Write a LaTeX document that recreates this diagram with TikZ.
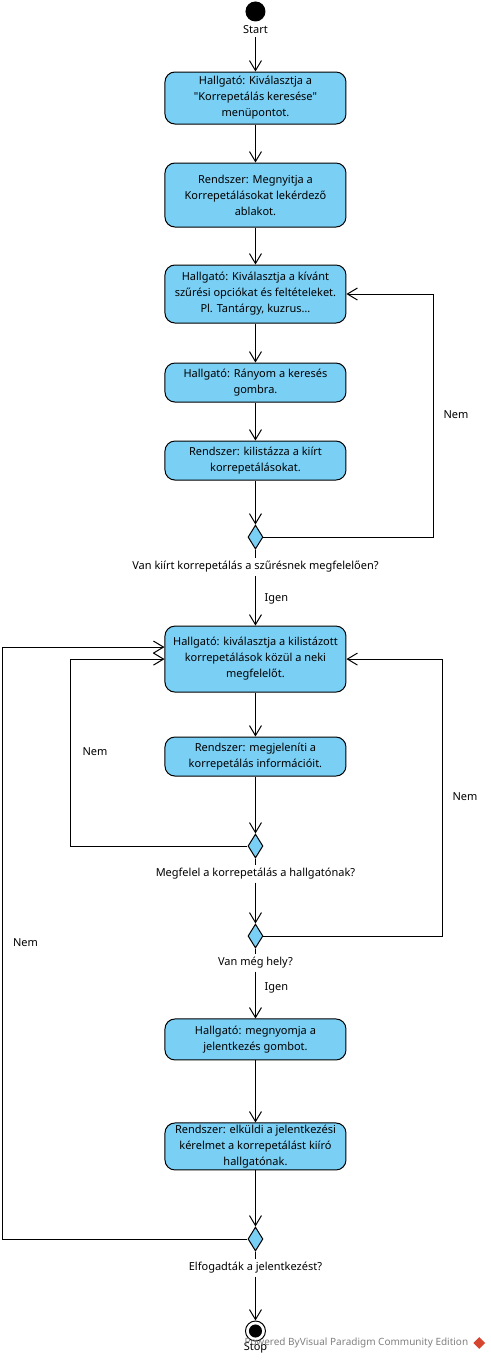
\documentclass[tikz,border=0pt]{standalone}
\usepackage{fontspec}
\setmainfont{Noto Sans}[Ligatures=TeXOff]
\usetikzlibrary{positioning,shapes.geometric,arrows.meta}
\definecolor{actblue}{RGB}{122,207,245}
\definecolor{vpred}{RGB}{214,69,48}
\tikzset{
 action/.style={draw, fill=actblue, rounded corners=7.5pt, minimum width=135.75pt, inner sep=0pt, align=center, font=\fontsize{8.25}{12}\selectfont},
 decision/.style={draw, fill=actblue, diamond, minimum width=11.25pt, minimum height=18pt, inner sep=0pt},
 guard/.style={inner sep=2pt, font=\fontsize{8.25}{12}\selectfont},
 flow/.style={-{Straight Barb[length=7.5pt,width=9pt]}},
}

\begin{document}
\begin{tikzpicture}[on grid, line width=0.75pt]
 \useasboundingbox (0,0) rectangle (368.25pt,-1020pt);
 \node [circle, fill, minimum size=15pt, inner sep=0pt] (start) at (191.6pt,-8.6pt) {};
 \node [guard, below=13.9pt of start] (startlbl) {Start};
 \node [action, minimum height=39pt, below=64.9pt of start] (b1) {Hallgató: Kiválasztja a\\"Korrepetálás keresése"\\menüpontot.};
 \node [action, minimum height=48pt, below=72.75pt of b1] (b2) {Rendszer: Megnyitja a\\Korrepetálásokat lekérdező\\ablakot.};
 \node [action, minimum height=43.5pt, below=74.25pt of b2] (b3) {Hallgató: Kiválasztja a kívánt\\szűrési opciókat és feltételeket.\\Pl. Tantárgy, kuzrus…};
 \node [action, minimum height=29.25pt, below=66.4pt of b3] (b4) {Hallgató: Rányom a keresés\\gombra.};
 \node [action, minimum height=29.25pt, below=58.5pt of b4] (b5) {Rendszer: kilistázza a kiírt\\korrepetálásokat.};
 \node [decision, below=57.4pt of b5] (d1) {};
 \node [guard, below=22.5pt of d1] (lbl1) {Van kiírt korrepetálás a szűrésnek megfelelően?};
 \node [action, minimum height=49.5pt, below=91.5pt of d1] (b6) {Hallgató: kiválasztja a kilistázott\\korrepetálások közül a neki\\megfelelőt.};
 \node [action, minimum height=29.25pt, below=73.1pt of b6] (b7) {Rendszer: megjeleníti a\\korrepetálás információit.};
 \node [decision, below=67.1pt of b7] (d2) {};
 \node [guard, below=21pt of d2] (lbl2) {Megfelel a korrepetálás a hallgatónak?};
 \node [decision, below=67.5pt of d2] (d3) {};
 \node [guard, below=20.25pt of d3] (lbl3) {Van még hely?};
 \node [action, minimum height=30.75pt, below=77.6pt of d3] (b8) {Hallgató: megnyomja a\\jelentkezés gombot.};
 \node [action, minimum height=35.25pt, below=80.25pt of b8] (b9) {Rendszer: elküldi a jelentkezési\\kérelmet a korrepetálást kiíró\\hallgatónak.};
 \node [decision, below=69.4pt of b9] (d4) {};
 \node [guard, below=21.75pt of d4] (lbl4) {Elfogadták a jelentkezést?};
 \node [circle, draw, fill=white, minimum size=15pt, inner sep=0pt, below=69pt of d4] (stop) {};
 \fill (stop.center) circle (4.9pt);
 \node [guard, below=12.75pt of stop] (stoplbl) {Stop};
 \node [guard, below right=24pt and 15.75pt of lbl1] (igen1) {Igen};
 \node [guard, below right=18.75pt and 15.75pt of lbl3] (igen2) {Igen};
 \node [guard, below right=24.4pt and 150.4pt of b4] (nem1) {Nem};
 \node [guard, above left=3.4pt and 120.4pt of b7] (nem2) {Nem};
 \node [guard, below right=30.4pt and 157.1pt of b7] (nem3) {Nem};
 \node [guard, below left=5.25pt and 172.5pt of d3] (nem4) {Nem};
 \node [font=\fontsize{7.5}{9}\selectfont, text=gray, inner sep=0pt, below right=9pt and -8.6pt of stop, anchor=west] (vpmark) {Powered ByVisual Paradigm Community Edition};
 \node [diamond, fill=vpred, minimum size=9pt, inner sep=0pt, right=3pt of vpmark.east] (vplogo) {};
 \draw [flow] (startlbl) -- (b1);
 \draw [flow] (b1) -- (b2);
 \draw [flow] (b2) -- (b3);
 \draw [flow] (b3) -- (b4);
 \draw [flow] (b4) -- (b5);
 \draw [flow] (b5) -- (d1);
 \draw (d1) -- (lbl1);
 \draw [flow] (lbl1) -- (b6);
 \draw [flow] (d1.east) -- ++(127.5pt,0) |- (b3.east);
 \draw [flow] (b6) -- (b7);
 \draw [flow] (b7) -- (d2);
 \draw (d2) -- (lbl2);
 \draw [flow] (lbl2) -- (d3);
 \draw [flow] (d2.west) -- ++(-132.4pt,0) |- (b6.west);
 \draw (d3) -- (lbl3);
 \draw [flow] (lbl3) -- (b8);
 \draw [flow] (d3.east) -- ++(133.9pt,0) |- (b6.east);
 \draw [flow] (b8) -- (b9);
 \draw [flow] (b9) -- (d4);
 \draw (d4) -- (lbl4);
 \draw [flow] (lbl4) -- (stop);
 \draw [flow] (d4.west) -- ++(-183.75pt,0) |- ([yshift=9pt]b6.west);
\end{tikzpicture}
\end{document}
